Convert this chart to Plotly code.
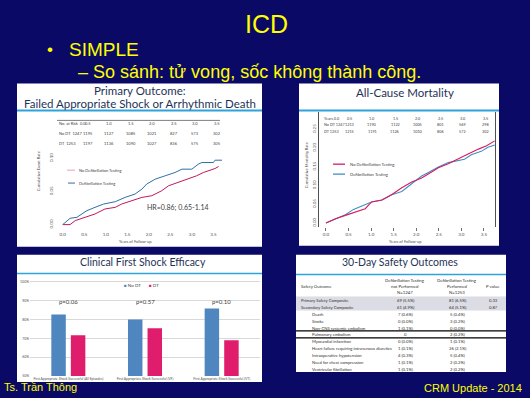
import plotly.graph_objects as go

# ---------------- DATA ----------------
# Panel 1: Primary outcome (cumulative event rate)
p1_years_nodt = [0, 0.17, 0.29, 0.52, 0.75, 0.98, 1.22, 1.37, 1.60, 1.84, 2.07, 2.30, 2.46, 2.69, 2.92, 3.11, 3.27, 3.39, 3.54, 3.62]
p1_rate_nodt = [0, 0, 0.006, 0.011, 0.016, 0.0235, 0.026, 0.031, 0.036, 0.041, 0.0435, 0.051, 0.0585, 0.0635, 0.0685, 0.0735, 0.0785, 0.081, 0.0845, 0.0875]
p1_years_dt = [0, 0.17, 0.33, 0.44, 0.56, 0.75, 0.95, 1.22, 1.45, 1.68, 1.84, 1.95, 2.15, 2.38, 2.61, 2.77, 3.0, 3.15, 3.23, 3.5, 3.54, 3.7]
p1_rate_dt = [0, 0.0095, 0.011, 0.016, 0.021, 0.026, 0.031, 0.0345, 0.041, 0.046, 0.0535, 0.061, 0.0685, 0.0735, 0.0785, 0.0835, 0.0835, 0.091, 0.0935, 0.0935, 0.097, 0.097]
p1_yticks = [0.0, 0.05, 0.10]
year_ticks = [0.0, 0.5, 1.0, 1.5, 2.0, 2.5, 3.0, 3.5]
year_labels = ["0.0", "0.5", "1.0", "1.5", "2.0", "2.5", "3.0", "3.5"]
p1_risk_nodt = [1247, 1195, 1127, 1085, 1021, 827, 573, 302]
p1_risk_dt = [1253, 1197, 1136, 1090, 1027, 836, 575, 305]

# Panel 2: All-cause mortality
p2_years_nodt = [0, 0.21, 0.43, 0.65, 0.87, 1.01, 1.24, 1.46, 1.68, 1.90, 2.12, 2.34, 2.49, 2.71, 2.93, 3.15, 3.38, 3.56, 3.74]
p2_rate_nodt = [0, 0.011, 0.020, 0.029, 0.038, 0.056, 0.061, 0.076, 0.094, 0.109, 0.120, 0.136, 0.147, 0.158, 0.170, 0.184, 0.197, 0.206, 0.219]
p2_years_dt = [0, 0.21, 0.43, 0.61, 0.87, 1.01, 1.24, 1.46, 1.68, 1.90, 2.12, 2.26, 2.49, 2.71, 2.93, 3.07, 3.22, 3.44, 3.59, 3.74]
p2_rate_dt = [0, 0.011, 0.022, 0.036, 0.049, 0.056, 0.061, 0.075, 0.084, 0.104, 0.125, 0.134, 0.149, 0.161, 0.167, 0.170, 0.182, 0.191, 0.202, 0.208]
p2_yticks = [0.0, 0.05, 0.10, 0.15, 0.20, 0.25]
p2_risk_nodt = [1247, 1213, 1190, 1122, 1005, 801, 569, 298]
p2_risk_dt = [1253, 1215, 1191, 1126, 1010, 806, 572, 302]

# Panel 3: Clinical first shock efficacy (%)
shock_cats = ["First Appropriate Shock Successful (All Episodes)",
              "First Appropriate Shock Successful (VF)",
              "First Appropriate Shock Successful (VT)"]
shock_nodt = [82.6, 80.0, 85.8]
shock_dt = [71.6, 75.3, 69.0]
shock_p = ["p=0.06", "p=0.57", "p=0.10"]
shock_yticks = [50, 60, 70, 80, 90, 100]

# Panel 4: 30-day safety outcomes
safety_items = ["Primary Safety Composite", "Secondary Safety Composite", "Death", "Stroke",
                "Non-CNS systemic embolism", "Pulmonary embolism", "Myocardial infarction",
                "Heart failure requiring intravenous diuretics", "Intraoperative hypotension",
                "Need for chest compression", "Ventricular fibrillation"]
safety_nodt = ["69 (5.5%)", "61 (4.9%)", "7 (0.6%)", "0 (0.0%)", "1 (0.1%)", "0",
               "0 (0.0%)", "1 (0.1%)", "4 (0.3%)", "1 (0.1%)", "1 (0.1%)"]
safety_dt = ["81 (6.5%)", "64 (5.1%)", "5 (0.4%)", "3 (0.2%)", "0 (0.0%)", "2 (0.2%)",
             "1 (0.1%)", "26 (2.1%)", "5 (0.4%)", "2 (0.2%)", "2 (0.2%)"]
safety_p = ["0.33", "0.87", "", "", "", "", "", "", "", "", ""]

# ---------------- LAYOUT HELPERS ----------------
W, H = 530, 398
def X(px): return px / W
def Y(py): return 1 - py / H

NAVY = "#0a0a66"
YELLOW = "#ffff00"
TEAL = "#2ea2da"
TITLE_C = "#1f3358"
TXT = "#505050"
PF = "Lato"
SF = "Liberation Sans"
RED1 = "#c2185b"
BLUE1 = "#2e6fa8"
RED2 = "#d81b60"
BLUE2 = "#3f8fc4"

fig = go.Figure()

# Panel 1 curves
fig.add_trace(go.Scatter(x=p1_years_nodt, y=p1_rate_nodt, mode="lines", line=dict(color=RED1, width=1),
                         xaxis="x", yaxis="y", name="No Defibrillation Testing"))
fig.add_trace(go.Scatter(x=p1_years_dt, y=p1_rate_dt, mode="lines", line=dict(color=BLUE1, width=1),
                         xaxis="x", yaxis="y", name="Defibrillation Testing"))
# Panel 2 curves
fig.add_trace(go.Scatter(x=p2_years_dt, y=p2_rate_dt, mode="lines", line=dict(color=BLUE2, width=1.1),
                         xaxis="x2", yaxis="y2", name="Defibrillation Testing"))
fig.add_trace(go.Scatter(x=p2_years_nodt, y=p2_rate_nodt, mode="lines", line=dict(color=RED2, width=1.1),
                         xaxis="x2", yaxis="y2", name="No Defibrillation Testing"))
# Panel 3 bars
fig.add_trace(go.Bar(x=shock_cats, y=shock_nodt, marker=dict(color="#4f86c0", line=dict(width=0)),
                     xaxis="x3", yaxis="y3", name="No DT"))
fig.add_trace(go.Bar(x=shock_cats, y=shock_dt, marker=dict(color="#e01d6c", line=dict(width=0)),
                     xaxis="x3", yaxis="y3", name="DT"))

tick_font = dict(family=PF, size=4.5, color=TXT)

shapes = []
def rect(x0, y0, x1, y1, color, layer="below"):
    shapes.append(dict(type="rect", xref="paper", yref="paper", x0=X(x0), x1=X(x1), y0=Y(y1), y1=Y(y0),
                       fillcolor=color, line=dict(width=0), layer=layer))
def hline(x0, x1, y, color, width):
    shapes.append(dict(type="line", xref="paper", yref="paper", x0=X(x0), x1=X(x1), y0=Y(y), y1=Y(y),
                       line=dict(color=color, width=width), layer="below"))

# white panels
rect(17, 84, 262, 248, "white")
rect(299, 84, 499, 247, "white")
rect(17, 256, 262, 384, "white")
rect(296, 256, 506, 374, "white")
# teal rules under titles
hline(17, 262, 111, TEAL, 2)
hline(299, 499, 111, TEAL, 2)
hline(17, 262, 275, TEAL, 1.5)
hline(296, 506, 276, TEAL, 1.5)
# panel 1 risk table rule
hline(57, 220, 121, "#606060", 0.8)
# panel 4 shaded band and black rules
rect(296, 298, 506, 312, "#dcdce4")
hline(296, 506, 332.5, "black", 1.2)
hline(296, 506, 339.5, "black", 1.2)

ann = []
def text(x, y, s, size, color, family=PF, xanchor="center", angle=0, xref="paper", yref="paper"):
    ann.append(dict(x=x if xref != "paper" else X(x), y=Y(y) if yref == "paper" else y, xref=xref, yref=yref,
                    text=s, showarrow=False, xanchor=xanchor, yanchor="middle", textangle=angle,
                    font=dict(family=family, size=size, color=color)))

# slide texts
text(266, 24, "ICD", 25, YELLOW, SF)
text(50, 50, "•", 17, YELLOW, SF)
text(67, 50, "SIMPLE", 19, YELLOW, SF, xanchor="left")
text(76, 72, "– So sánh: tử vong, sốc không thành công.", 18, YELLOW, SF, xanchor="left")
text(2, 389, "Ts. Trần Thông", 11, YELLOW, SF, xanchor="left")
text(524, 390, "CRM Update - 2014", 11, YELLOW, SF, xanchor="right")

# panel titles
text(140, 91, "Primary Outcome:", 11.5, TITLE_C)
text(140, 104.5, "Failed Appropriate Shock or Arrhythmic Death", 11.5, TITLE_C)
text(405, 93, "All-Cause Mortality", 11.5, TITLE_C)
text(143, 263, "Clinical First Shock Efficacy", 10.5, TITLE_C)
text(400, 263, "30-Day Safety Outcomes", 10.5, TITLE_C)

# panel 1 extras
rows1 = [("No. at Risk", year_labels), ("No DT", [str(v) for v in p1_risk_nodt]), ("DT", [str(v) for v in p1_risk_dt])]
for r, (lab, vals) in enumerate(rows1):
    yy = 124 + 10 * r
    text(57, yy, f"{lab}  {vals[0]}", 4, "#404040", xanchor="left")
    for t, v in zip(year_ticks[1:], vals[1:]):
        text(t + 0.08, yy, v, 4, "#404040", xref="x")
text(178, 209, "HR=0.86; 0.65-1.14", 7, "#404040")
shapes.append(dict(type="line", xref="paper", yref="paper", x0=X(67), x1=X(75), y0=Y(171), y1=Y(171),
                   line=dict(color="#ee9ab8", width=1)))
shapes.append(dict(type="line", xref="paper", yref="paper", x0=X(68), x1=X(75), y0=Y(184), y1=Y(184),
                   line=dict(color=BLUE1, width=1)))
text(77, 171, "No Defibrillation Testing", 4, "#404040", xanchor="left")
text(77, 184, "Defibrillation Testing", 4, "#404040", xanchor="left")
text(38, 172, "Cumulative Event Rate", 4, TXT, angle=-90)
text(135, 243, "Years of Follow-up", 4, TXT)

# panel 2 extras
rows2 = [("Years", year_labels), ("No DT", [str(v) for v in p2_risk_nodt]), ("DT", [str(v) for v in p2_risk_dt])]
for r, (lab, vals) in enumerate(rows2):
    yy = 119 + 6.5 * r
    text(322, yy, f"{lab} {vals[0]}", 3.8, "#404040", xanchor="left")
    for t, v in zip(year_ticks[1:], vals[1:]):
        text(t + 0.03, yy, v, 3.8, "#404040", xref="x2")
shapes.append(dict(type="line", xref="paper", yref="paper", x0=X(333), x1=X(345), y0=Y(165), y1=Y(165),
                   line=dict(color=RED2, width=1.3)))
shapes.append(dict(type="line", xref="paper", yref="paper", x0=X(333), x1=X(345), y0=Y(175), y1=Y(175),
                   line=dict(color=BLUE2, width=1.3)))
text(348, 165, "No Defibrillation Testing", 4.2, "#404040", xanchor="left")
text(348, 175, "Defibrillation Testing", 4.2, "#404040", xanchor="left")
text(306, 166, "Cumulative Mortality Rate", 4, TXT, angle=-90)
text(405, 243, "Years of Follow-up", 4, TXT)

# panel 3 extras
text(122, 287, "<span style='color:#4f86c0'>■</span> No DT", 4.5, "#404040", xanchor="left")
text(147, 287, "<span style='color:#e01d6c'>■</span> DT", 4.5, "#404040", xanchor="left")
for c, p in zip(shock_cats, shock_p):
    text(c, 303, p, 6, "#404040", xref="x3")

# panel 4 table
text(299, 288, "Safety Outcome", 4.3, "#303030", xanchor="left")
for i, s in enumerate(["Defibrillation Testing", "not Performed", "N=1247"]):
    text(405, 282 + 6 * i, s, 4.3, "#303030")
for i, s in enumerate(["Defibrillation Testing", "Performed", "N=1253"]):
    text(457, 282 + 6 * i, s, 4.3, "#303030")
text(493, 288, "P value", 4.3, "#303030")
for i, (nm, a, b, p) in enumerate(zip(safety_items, safety_nodt, safety_dt, safety_p)):
    yy = 302 + i * 7 if i < 6 else 343 + (i - 6) * 7
    if i == 5:
        yy = 336
    text(299 if i < 2 else 310, yy, nm, 4.2, "#303030", xanchor="left")
    text(405, yy, a, 4.2, "#303030")
    text(457, yy, b, 4.2, "#303030")
    if p:
        text(493, yy, p, 4.2, "#303030")

fig.update_layout(
    width=W, height=H, margin=dict(l=0, r=0, t=0, b=0),
    paper_bgcolor=NAVY, plot_bgcolor="rgba(0,0,0,0)", showlegend=False,
    barmode="group", bargap=0.49, bargroupgap=0.26,
    xaxis=dict(domain=[X(55), X(225)], range=[-0.18, 3.77], anchor="y", tickvals=year_ticks, ticktext=year_labels,
               showgrid=False, zeroline=False, showline=False, ticks="", tickfont=tick_font),
    yaxis=dict(domain=[Y(232), Y(150)], range=[-0.0094, 0.1135], anchor="x", tickvals=p1_yticks,
               tickformat=".2f", tickangle=-90, showgrid=False, zeroline=False, showline=False, ticks="",
               tickfont=tick_font),
    xaxis2=dict(domain=[X(319), X(495)], range=[-0.155, 3.746], anchor="y2", tickvals=year_ticks,
                ticktext=year_labels, showgrid=False, zeroline=False, showline=False, ticks="outside",
                ticklen=3, tickcolor="#707070", tickfont=tick_font),
    yaxis2=dict(domain=[Y(228), Y(113)], range=[-0.0106, 0.295], anchor="x2", tickvals=p2_yticks,
                tickformat=".2f", tickangle=-90, showgrid=False, zeroline=False, showline=True, mirror=True,
                linecolor="#505050", linewidth=1, ticks="", tickfont=tick_font),
    xaxis3=dict(domain=[X(30), X(260)], anchor="y3", showgrid=False, zeroline=False, showline=False, ticks="",
                tickfont=dict(family=PF, size=3.3, color=TXT)),
    yaxis3=dict(domain=[Y(378), Y(280)], range=[50, 101.6], anchor="x3", tickvals=shock_yticks,
                ticktext=[f"{v}%" for v in shock_yticks], showgrid=True, gridcolor="#d9d9d9", gridwidth=0.8,
                zeroline=False, showline=False, ticks="", tickfont=dict(family=PF, size=3.5, color=TXT)),
    shapes=shapes, annotations=ann,
)

fig.write_html("out.html", config={"displayModeBar": False},
               post_script="document.body.style.margin='0';document.body.style.background='#0a0a66';")
